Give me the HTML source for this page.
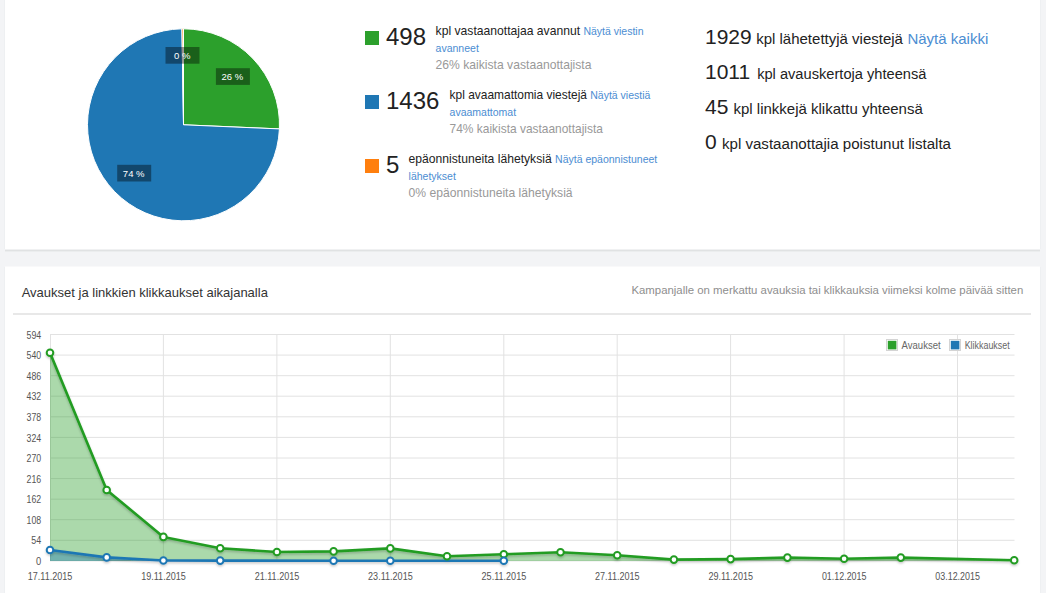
<!DOCTYPE html>
<html><head><meta charset="utf-8">
<style>
*{box-sizing:border-box}
html,body{margin:0;padding:0}
body{width:1046px;height:593px;overflow:hidden;position:relative;background:#f3f4f6;font-family:"Liberation Sans",Arial,sans-serif;color:#333}
.panel{position:absolute;left:5px;width:1035px;background:#fff}
#p1{top:-10px;height:259px;box-shadow:0 1px 0 #f0f1f2,0 2px 0 #e0e2e3,0 3px 0 #ebedee,-1px 0 0 #eef0f2,1px 0 0 #eef0f2}
#p2{top:267px;height:340px;box-shadow:0 -1px 0 #f9f9fa,-1px 0 0 #eef0f2,1px 0 0 #eef0f2}
.abs{position:absolute;white-space:nowrap}
.sq{position:absolute;width:14px;height:14px}
.big{position:absolute;font-size:24px;line-height:24px;color:#222;white-space:nowrap}
.txt{position:absolute;font-size:12.15px;line-height:17px;color:#222;white-space:nowrap}
.txt a{font-size:10.5px;color:#4b8dd2;text-decoration:none}
.txt .gr{color:#999}
.r{position:absolute;left:705px;white-space:nowrap;color:#222}
.r .n{font-size:21px}
.r .t{font-size:15px}
.r a{font-size:15px;color:#4b8dd2;text-decoration:none}
.hd{position:absolute;font-size:13px;color:#333;white-space:nowrap}
.hr{position:absolute;font-size:11.4px;color:#8e8e8e;white-space:nowrap}
.sep{position:absolute;left:13.4px;width:1018px;top:313px;height:2px;background:#e8e8e8}
svg{position:absolute;left:0;top:0}
.g{stroke:#e2e2e2;stroke-width:1}
.yl{font-size:10px;fill:#555;text-anchor:end}
.xl{font-size:10px;fill:#555;text-anchor:middle}
.ln{fill:none;stroke-width:2.6;stroke-linejoin:round}
.mk{fill:#fff;stroke-width:2}
.pl{font-size:9.5px;fill:#fff;text-anchor:middle}
.lg{font-size:10px;fill:#666}
</style></head><body>
<div class="panel" id="p1"></div>
<div class="panel" id="p2"></div>

<svg width="1046" height="593" viewBox="0 0 1046 593" font-family="Liberation Sans, Arial, sans-serif">
<path d="M183.5,124.8 L183.50,28.80 A96.0,96.0 0 0 1 279.41,128.92 Z" fill="#2ca02c" stroke="#fff" stroke-width="1"/>
<path d="M183.5,124.8 L279.41,128.92 A96.0,96.0 0 1 1 181.94,28.81 Z" fill="#1f77b4" stroke="#fff" stroke-width="1"/>
<path d="M183.5,124.8 L181.94,28.81 A96.0,96.0 0 0 1 183.50,28.80 Z" fill="#ff7f0e" stroke="#fff" stroke-width="1"/>
<rect x="165.5" y="47" width="34" height="16.7" fill="#000" fill-opacity="0.4"/>
<text x="182.2" y="59.1" class="pl">0 %</text>
<rect x="215.9" y="68.2" width="34" height="16.7" fill="#000" fill-opacity="0.4"/>
<text x="232.4" y="80.3" class="pl">26 %</text>
<rect x="117.2" y="164.8" width="34" height="16.7" fill="#000" fill-opacity="0.4"/>
<text x="133.7" y="177.1" class="pl">74 %</text>
<defs><filter id="sh" x="-5%" y="-20%" width="110%" height="140%"><feDropShadow dx="0" dy="1.5" stdDeviation="0.9" flood-color="#000" flood-opacity="0.22"/></filter></defs>
<line x1="50.0" x2="1014.5" y1="560.9" y2="560.9" class="g"/>
<line x1="50.0" x2="1014.5" y1="540.3" y2="540.3" class="g"/>
<line x1="50.0" x2="1014.5" y1="519.7" y2="519.7" class="g"/>
<line x1="50.0" x2="1014.5" y1="499.2" y2="499.2" class="g"/>
<line x1="50.0" x2="1014.5" y1="478.6" y2="478.6" class="g"/>
<line x1="50.0" x2="1014.5" y1="458.0" y2="458.0" class="g"/>
<line x1="50.0" x2="1014.5" y1="437.4" y2="437.4" class="g"/>
<line x1="50.0" x2="1014.5" y1="416.8" y2="416.8" class="g"/>
<line x1="50.0" x2="1014.5" y1="396.2" y2="396.2" class="g"/>
<line x1="50.0" x2="1014.5" y1="375.7" y2="375.7" class="g"/>
<line x1="50.0" x2="1014.5" y1="355.1" y2="355.1" class="g"/>
<line x1="50.0" x2="1014.5" y1="334.5" y2="334.5" class="g"/>
<line x1="50.5" x2="50.5" y1="334.5" y2="560.9" class="g"/>
<line x1="163.4" x2="163.4" y1="334.5" y2="560.9" class="g"/>
<line x1="276.9" x2="276.9" y1="334.5" y2="560.9" class="g"/>
<line x1="390.3" x2="390.3" y1="334.5" y2="560.9" class="g"/>
<line x1="503.8" x2="503.8" y1="334.5" y2="560.9" class="g"/>
<line x1="617.2" x2="617.2" y1="334.5" y2="560.9" class="g"/>
<line x1="730.6" x2="730.6" y1="334.5" y2="560.9" class="g"/>
<line x1="844.1" x2="844.1" y1="334.5" y2="560.9" class="g"/>
<line x1="957.5" x2="957.5" y1="334.5" y2="560.9" class="g"/>
<text x="41.2" y="565.0" class="yl" textLength="5.2" lengthAdjust="spacingAndGlyphs">0</text>
<text x="41.2" y="544.4" class="yl" textLength="9.9" lengthAdjust="spacingAndGlyphs">54</text>
<text x="41.2" y="523.8" class="yl" textLength="14.6" lengthAdjust="spacingAndGlyphs">108</text>
<text x="41.2" y="503.3" class="yl" textLength="14.6" lengthAdjust="spacingAndGlyphs">162</text>
<text x="41.2" y="482.7" class="yl" textLength="14.6" lengthAdjust="spacingAndGlyphs">216</text>
<text x="41.2" y="462.1" class="yl" textLength="14.6" lengthAdjust="spacingAndGlyphs">270</text>
<text x="41.2" y="441.5" class="yl" textLength="14.6" lengthAdjust="spacingAndGlyphs">324</text>
<text x="41.2" y="420.9" class="yl" textLength="14.6" lengthAdjust="spacingAndGlyphs">378</text>
<text x="41.2" y="400.3" class="yl" textLength="14.6" lengthAdjust="spacingAndGlyphs">432</text>
<text x="41.2" y="379.8" class="yl" textLength="14.6" lengthAdjust="spacingAndGlyphs">486</text>
<text x="41.2" y="359.2" class="yl" textLength="14.6" lengthAdjust="spacingAndGlyphs">540</text>
<text x="41.2" y="338.6" class="yl" textLength="14.6" lengthAdjust="spacingAndGlyphs">594</text>
<text x="50.1" y="580" class="xl" textLength="44.6" lengthAdjust="spacingAndGlyphs">17.11.2015</text>
<text x="163.5" y="580" class="xl" textLength="44.6" lengthAdjust="spacingAndGlyphs">19.11.2015</text>
<text x="277.0" y="580" class="xl" textLength="44.6" lengthAdjust="spacingAndGlyphs">21.11.2015</text>
<text x="390.4" y="580" class="xl" textLength="44.6" lengthAdjust="spacingAndGlyphs">23.11.2015</text>
<text x="503.9" y="580" class="xl" textLength="44.6" lengthAdjust="spacingAndGlyphs">25.11.2015</text>
<text x="617.3" y="580" class="xl" textLength="44.6" lengthAdjust="spacingAndGlyphs">27.11.2015</text>
<text x="730.7" y="580" class="xl" textLength="44.6" lengthAdjust="spacingAndGlyphs">29.11.2015</text>
<text x="844.2" y="580" class="xl" textLength="44.6" lengthAdjust="spacingAndGlyphs">01.12.2015</text>
<text x="957.6" y="580" class="xl" textLength="44.6" lengthAdjust="spacingAndGlyphs">03.12.2015</text>
<path d="M50.0,352.7 L106.7,490.0 L163.4,536.9 L220.2,548.3 L276.9,552.0 L333.6,551.4 L390.3,548.4 L447.0,556.3 L503.8,554.2 L560.5,552.2 L617.2,555.2 L673.9,559.6 L730.6,559.1 L787.4,557.6 L844.1,558.7 L900.8,557.6 L1014.2,560.3 L1014.2,560.9 L50.0,560.9 Z" fill="#2ca02c" fill-opacity="0.4"/>
<path d="M50.0,550.0 L106.7,557.4 L163.4,560.5 L220.2,560.6 L333.6,560.7 L390.3,560.7 L503.8,560.7 L503.8,560.9 L50.0,560.9 Z" fill="#1f77b4" fill-opacity="0.4"/>
<g filter="url(#sh)">
<path d="M50.0,352.7 L106.7,490.0 L163.4,536.9 L220.2,548.3 L276.9,552.0 L333.6,551.4 L390.3,548.4 L447.0,556.3 L503.8,554.2 L560.5,552.2 L617.2,555.2 L673.9,559.6 L730.6,559.1 L787.4,557.6 L844.1,558.7 L900.8,557.6 L1014.2,560.3" class="ln" stroke="#229c22"/>
<path d="M50.0,550.0 L106.7,557.4 L163.4,560.5 L220.2,560.6 L333.6,560.7 L390.3,560.7 L503.8,560.7" class="ln" stroke="#1f77b4"/>
<circle cx="50.0" cy="352.7" r="3.3" class="mk" stroke="#229c22"/>
<circle cx="106.7" cy="490.0" r="3.3" class="mk" stroke="#229c22"/>
<circle cx="163.4" cy="536.9" r="3.3" class="mk" stroke="#229c22"/>
<circle cx="220.2" cy="548.3" r="3.3" class="mk" stroke="#229c22"/>
<circle cx="276.9" cy="552.0" r="3.3" class="mk" stroke="#229c22"/>
<circle cx="333.6" cy="551.4" r="3.3" class="mk" stroke="#229c22"/>
<circle cx="390.3" cy="548.4" r="3.3" class="mk" stroke="#229c22"/>
<circle cx="447.0" cy="556.3" r="3.3" class="mk" stroke="#229c22"/>
<circle cx="503.8" cy="554.2" r="3.3" class="mk" stroke="#229c22"/>
<circle cx="560.5" cy="552.2" r="3.3" class="mk" stroke="#229c22"/>
<circle cx="617.2" cy="555.2" r="3.3" class="mk" stroke="#229c22"/>
<circle cx="673.9" cy="559.6" r="3.3" class="mk" stroke="#229c22"/>
<circle cx="730.6" cy="559.1" r="3.3" class="mk" stroke="#229c22"/>
<circle cx="787.4" cy="557.6" r="3.3" class="mk" stroke="#229c22"/>
<circle cx="844.1" cy="558.7" r="3.3" class="mk" stroke="#229c22"/>
<circle cx="900.8" cy="557.6" r="3.3" class="mk" stroke="#229c22"/>
<circle cx="1014.2" cy="560.3" r="3.3" class="mk" stroke="#229c22"/>
<circle cx="50.0" cy="550.0" r="3.3" class="mk" stroke="#1f77b4"/>
<circle cx="106.7" cy="557.4" r="3.3" class="mk" stroke="#1f77b4"/>
<circle cx="163.4" cy="560.5" r="3.3" class="mk" stroke="#1f77b4"/>
<circle cx="220.2" cy="560.6" r="3.3" class="mk" stroke="#1f77b4"/>
<circle cx="333.6" cy="560.7" r="3.3" class="mk" stroke="#1f77b4"/>
<circle cx="390.3" cy="560.7" r="3.3" class="mk" stroke="#1f77b4"/>
<circle cx="503.8" cy="560.7" r="3.3" class="mk" stroke="#1f77b4"/>
</g>
<rect x="886.5" y="339.5" width="11" height="11" fill="#fff" stroke="#d4d4d4" stroke-width="1"/>
<rect x="887.8" y="340.8" width="8.6" height="8.6" fill="#2ca02c"/>
<text x="901.6" y="349" class="lg" textLength="39" lengthAdjust="spacingAndGlyphs">Avaukset</text>
<rect x="949.5" y="339.5" width="11" height="11" fill="#fff" stroke="#d4d4d4" stroke-width="1"/>
<rect x="950.8" y="340.8" width="8.6" height="8.6" fill="#1f77b4"/>
<text x="964.7" y="349" class="lg" textLength="45" lengthAdjust="spacingAndGlyphs">Klikkaukset</text>
</svg>

<div class="sq" style="left:365px;top:31px;background:#2ca02c"></div>
<div class="big" style="left:386px;top:25px">498</div>
<div class="txt" style="left:435.6px;top:23px">kpl vastaanottajaa avannut <a>Näytä viestin</a><br><a>avanneet</a><br><span class="gr">26% kaikista vastaanottajista</span></div>

<div class="sq" style="left:365px;top:95px;background:#1f77b4"></div>
<div class="big" style="left:386px;top:89px">1436</div>
<div class="txt" style="left:449.6px;top:87px;font-size:11.95px">kpl avaamattomia viestejä <a>Näytä viestiä</a><br><a>avaamattomat</a><br><span class="gr">74% kaikista vastaanottajista</span></div>

<div class="sq" style="left:365px;top:159px;background:#ff7f0e"></div>
<div class="big" style="left:386px;top:153px">5</div>
<div class="txt" style="left:408.6px;top:151px">epäonnistuneita lähetyksiä <a>Näytä epäonnistuneet</a><br><a>lähetykset</a><br><span class="gr">0% epäonnistuneita lähetyksiä</span></div>

<div class="r" style="top:25px"><span class="n">1929</span> <span class="t">kpl lähetettyjä viestejä</span> <a>Näytä kaikki</a></div>
<div class="r" style="top:60px"><span class="n">1011</span> <span class="t" style="margin-left:2.5px;font-size:14.65px">kpl avauskertoja yhteensä</span></div>
<div class="r" style="top:95px"><span class="n">45</span> <span class="t" style="margin-left:0.7px">kpl linkkejä klikattu yhteensä</span></div>
<div class="r" style="top:130px"><span class="n">0</span> <span class="t" style="margin-left:0.8px;font-size:15.1px">kpl vastaanottajia poistunut listalta</span></div>

<div class="hd" style="left:21.7px;top:284.5px">Avaukset ja linkkien klikkaukset aikajanalla</div>
<div class="hr" style="left:631.4px;top:284.3px">Kampanjalle on merkattu avauksia tai klikkauksia viimeksi kolme päivää sitten</div>
<div class="sep"></div>
</body></html>
